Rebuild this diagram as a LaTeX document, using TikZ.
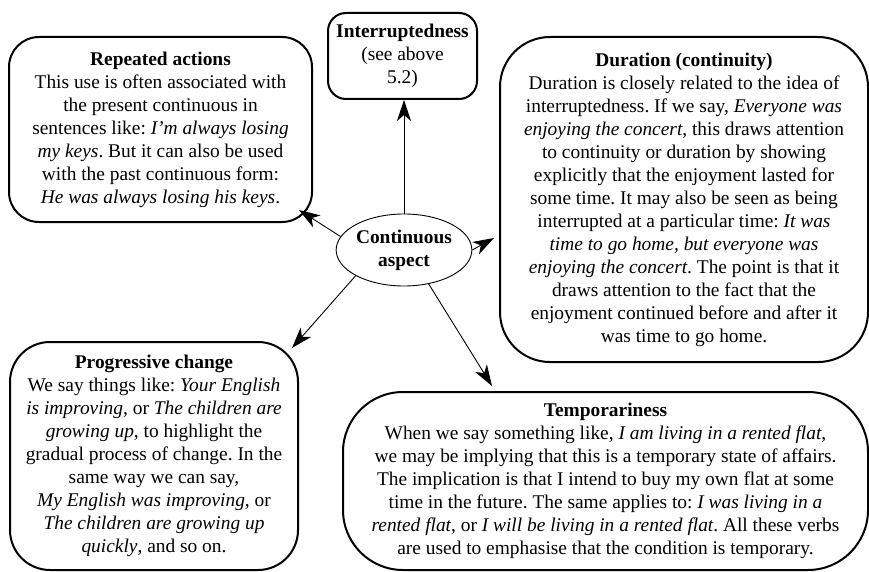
\documentclass[tikz,border=0pt]{standalone}
\usepackage{fontspec}
\setmainfont{Liberation Serif}
\usetikzlibrary{arrows.meta,calc,shapes.geometric}
\frenchspacing

\begin{document}
\begin{tikzpicture}[x=1pt,y=-1pt,
  txt/.style={font=\fontsize{19.4}{23}\selectfont, align=center, inner sep=0pt},
  card/.style={txt, draw, line width=2pt},
  hub/.style={txt, draw, ellipse, line width=0.9pt, minimum width=124pt, minimum height=72pt},
  link/.style={line width=0.9pt, -{Stealth[length=21pt,width=14pt,inset=6pt]}}]
\useasboundingbox (0,0) rectangle (869,572);

% central concept
\node[hub] (ell) at (404,250) {\textbf{Continuous}\\\textbf{aspect}};

% surrounding explanation boxes
\node[card, rounded corners=30pt, minimum width=303pt, minimum height=185pt] (rep) at (160.5,129.5)
 {\textbf{Repeated actions}\\
  This use is often associated with\\
  the present continuous in\\
  sentences like: \textit{I’m always losing}\\
  \textit{my keys}. But it can also be used\\
  with the past continuous form:\\
  \textit{He was always losing his keys}.};

\node[card, rounded corners=18pt, minimum width=149pt, minimum height=86pt] (int) at (402.5,56)
 {\textbf{Interruptedness}\\(see above\\5.2)};

\node[card, rounded corners=50pt, minimum width=368pt, minimum height=325pt] (dur) at (684,199.5)
 {\textbf{Duration (continuity)}\\
  Duration is closely related to the idea of\\
  interruptedness. If we say, \textit{Everyone was}\\
  \textit{enjoying the concert}, this draws attention\\
  to continuity or duration by showing\\
  explicitly that the enjoyment lasted for\\
  some time. It may also be seen as being\\
  interrupted at a particular time: \textit{It was}\\
  \textit{time to go home, but everyone was}\\
  \textit{enjoying the concert}. The point is that it\\
  draws attention to the fact that the\\
  enjoyment continued before and after it\\
  was time to go home.};

\node[card, rounded corners=40pt, minimum width=288pt, minimum height=228pt] (prog) at (154,456)
 {\textbf{Progressive change}\\
  We say things like: \textit{Your English}\\
  \textit{is improving}, or \textit{The children are}\\
  \textit{growing up}, to highlight the\\
  gradual process of change. In the\\
  same way we can say,\\
  \textit{My English was improving}, or\\
  \textit{The children are growing up}\\
  \textit{quickly}, and so on.};

\node[card, rounded corners=60pt, minimum width=525pt, minimum height=178pt] (temp) at (605.5,481)
 {\textbf{Temporariness}\\
  When we say something like, \textit{I am living in a rented flat},\\
  we may be implying that this is a temporary state of affairs.\\
  The implication is that I intend to buy my own flat at some\\
  time in the future. The same applies to: \textit{I was living in a}\\
  \textit{rented flat}, or \textit{I will be living in a rented flat}. All these verbs\\
  are used to emphasise that the condition is temporary.};

% connectors from the centre
\draw[link] (ell.north) -- (ell.north |- int.south);
\draw[link] (ell.168) -- ($(rep.south east)+(-14,-13)$);
\draw[link] (ell.east) -- ($(dur.west)+(-5,38.5)$);
\draw[link] (ell.208) -- ($(prog.north east)+(-7,7)$);
\draw[link] (ell.-54) -- ($(temp.north)+(-113.5,-5)$);
\end{tikzpicture}
\end{document}
